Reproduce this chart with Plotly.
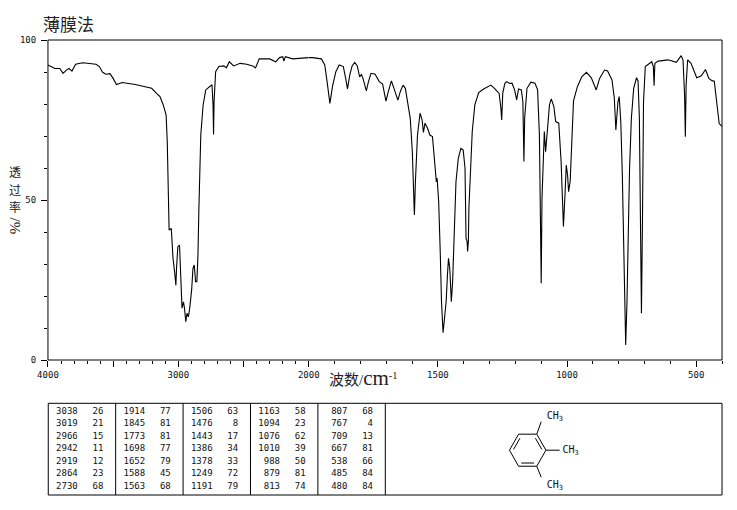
import numpy as np
import plotly.graph_objects as go

# IR spectrum (cm-1, %T)
wavenumber = [
    4000, 3947, 3909, 3884, 3859, 3838, 3816, 3788, 3733, 3631, 3606, 3581, 3556, 3525,
    3500, 3475, 3430, 3330, 3255, 3205, 3167, 3141, 3116, 3094, 3085, 3076, 3071, 3054,
    3041, 3029, 3019, 3014, 3004, 2991, 2984, 2972, 2961, 2953, 2943, 2934, 2923, 2913,
    2898, 2888, 2878, 2868, 2858, 2850, 2843, 2835, 2828, 2810, 2790, 2752, 2742, 2734,
    2730, 2726, 2714, 2689, 2651, 2632, 2609, 2576, 2526, 2475, 2425, 2408, 2380, 2300,
    2254, 2224, 2199, 2191, 2179, 2123, 2074, 2023, 2000, 1986, 1951, 1938, 1929, 1918,
    1908, 1895, 1882, 1866, 1857, 1850, 1841, 1832, 1822, 1812, 1803, 1796, 1790, 1784,
    1777, 1769, 1759, 1743, 1727, 1714, 1708, 1701, 1692, 1680, 1670, 1655, 1645, 1635,
    1626, 1617, 1607, 1599, 1594, 1591, 1587, 1579, 1569, 1561, 1556, 1550, 1540, 1531,
    1521, 1512, 1506, 1503, 1497, 1491, 1486, 1480, 1473, 1468, 1463, 1459, 1454, 1448,
    1443, 1438, 1430, 1421, 1411, 1402, 1395, 1391, 1387, 1385, 1382, 1380, 1373, 1367,
    1357, 1342, 1323, 1295, 1281, 1263, 1256, 1253, 1249, 1241, 1234, 1222, 1213, 1203,
    1195, 1188, 1177, 1171, 1167, 1164, 1155, 1140, 1124, 1114, 1107, 1103, 1100, 1097,
    1091, 1088, 1083, 1076, 1068, 1061, 1051, 1044, 1032, 1023, 1018, 1014, 1008, 1003,
    998, 994, 988, 981, 975, 960, 943, 925, 906, 887, 874, 855, 843, 826,
    817, 811, 803, 798, 792, 786, 782, 777, 773, 768, 763, 758, 751, 742,
    731, 725, 720, 716, 712, 708, 704, 697, 678, 672, 666, 663, 660, 647,
    609, 577, 558, 551, 545, 542, 539, 533, 520, 498, 480, 464, 451, 439,
    430, 420, 411, 400,
]
transmittance = [
    92.2, 91.1, 91.1, 89.6, 90.6, 91.1, 90.3, 92.4, 92.9, 92.4, 91.7, 89.9, 89.3, 89.5,
    88.0, 86.1, 86.7, 86.1, 85.4, 84.9, 83.3, 82.3, 79.7, 76.6, 68.2, 53.7, 40.6, 41.1,
    31.8, 27.6, 23.4, 28.6, 35.4, 35.9, 28.7, 16.2, 18.2, 16.2, 12.0, 14.6, 13.5, 16.2,
    21.9, 28.6, 29.7, 24.5, 24.5, 32.3, 46.4, 59.9, 70.3, 79.7, 84.4, 85.7, 86.0, 79.7,
    70.5, 80.7, 90.1, 91.7, 91.9, 91.3, 93.2, 91.9, 92.7, 92.4, 91.8, 91.3, 94.1, 94.1,
    93.2, 94.5, 94.8, 93.4, 94.8, 94.1, 94.3, 94.5, 94.5, 94.5, 94.1, 92.2, 87.0, 80.2,
    85.5, 90.1, 92.2, 91.7, 88.0, 84.7, 89.1, 91.9, 93.0, 91.9, 88.5, 89.2, 88.0, 85.9,
    84.1, 86.9, 89.6, 89.3, 87.0, 86.2, 83.3, 80.9, 83.9, 87.2, 84.9, 81.2, 84.0, 85.9,
    84.9, 80.7, 75.5, 65.1, 52.6, 45.3, 55.8, 70.3, 77.1, 75.0, 71.1, 74.0, 72.4, 70.3,
    69.8, 59.9, 55.7, 56.8, 49.5, 33.9, 18.2, 8.5, 14.1, 18.2, 26.6, 31.8, 28.6, 18.2,
    24.5, 39.1, 55.7, 63.0, 66.1, 65.6, 59.9, 38.0, 37.1, 33.9, 37.1, 47.4, 62.0, 71.4,
    79.7, 83.6, 84.7, 85.9, 84.9, 83.3, 78.6, 75.0, 83.3, 86.4, 87.0, 86.4, 86.5, 84.4,
    81.3, 84.7, 84.4, 80.7, 62.0, 75.7, 84.9, 86.8, 86.5, 84.4, 70.3, 51.6, 24.0, 50.5,
    68.2, 71.4, 65.1, 72.4, 79.7, 81.6, 79.2, 74.5, 74.0, 62.0, 47.4, 41.7, 51.5, 60.9,
    57.8, 52.6, 55.7, 70.3, 81.0, 85.4, 88.5, 89.9, 88.2, 84.4, 88.0, 90.6, 90.3, 87.5,
    81.8, 71.9, 80.7, 82.3, 74.5, 57.8, 39.1, 19.3, 4.7, 18.2, 39.1, 59.9, 75.5, 84.9,
    88.2, 87.2, 75.5, 34.9, 14.6, 44.0, 80.7, 91.7, 92.7, 93.2, 91.7, 85.7, 92.7, 93.4,
    93.8, 93.0, 95.1, 93.7, 82.8, 69.8, 86.0, 93.8, 92.7, 88.2, 88.8, 90.8, 88.0, 87.3,
    87.1, 80.7, 73.9, 73.0,
]

# peak table (column by column)
peak_wn = [3038, 3019, 2966, 2942, 2919, 2864, 2730,
           1914, 1845, 1773, 1698, 1652, 1588, 1563,
           1506, 1476, 1443, 1386, 1378, 1249, 1191,
           1163, 1094, 1076, 1010, 988, 879, 813,
           807, 767, 709, 667, 538, 485, 480]
peak_t = [26, 21, 15, 11, 12, 23, 68,
          77, 81, 81, 77, 79, 45, 68,
          63, 8, 17, 34, 33, 72, 79,
          58, 23, 62, 39, 50, 81, 74,
          68, 4, 13, 81, 66, 84, 84]

x_ticks_left = [4000, 3500, 3000, 2500, 2000]
x_labels_left = ["4000", "", "3000", "", "2000"]
x_ticks_right = [1500, 1000, 500]
x_labels_right = ["1500", "1000", "500"]

# the page puts the figure 8px in from the top-left corner
OFF = 8
W, H = 737 - OFF, 510 - OFF
ML, MR, MT, MB = 46 - OFF, 2, 40 - OFF, 10


def px_x(x):
    # x in window pixels -> paper
    return (x - OFF - ML) / (W - ML - MR)


def px_y(y):
    return (H - MB - (y - OFF)) / (H - MT - MB)


mono = dict(family="DejaVu Sans Mono", size=9, color="#111")
cjk = "Noto Sans CJK SC"

wn = np.array(wavenumber)
tr = np.array(transmittance)
left = wn >= 2000
right = wn <= 2000

fig = go.Figure()
fig.add_trace(go.Scatter(x=wn[left], y=tr[left], mode="lines", xaxis="x", yaxis="y",
                         line=dict(color="black", width=1.1), hoverinfo="skip"))
fig.add_trace(go.Scatter(x=wn[right], y=tr[right], mode="lines", xaxis="x2", yaxis="y",
                         line=dict(color="black", width=1.1), hoverinfo="skip"))

# ---- peak table, local pixel units (origin = top-left of the table box)
TX0, TY0 = 48.3, 403.3
col_w = 68.5
row_h = 12.5
box_w, box_h = 684.7, 91.7
tx, ty, tt = [], [], []
for i in range(len(peak_wn)):
    c, r = divmod(i, 7)
    tx.append(c * col_w + 30)
    ty.append(8.4 + r * row_h)
    tt.append(str(peak_wn[i]))
for i in range(len(peak_t)):
    c, r = divmod(i, 7)
    tx.append(c * col_w + 56)
    ty.append(8.4 + r * row_h)
    tt.append(str(peak_t[i]))
fig.add_trace(go.Scatter(x=tx, y=ty, text=tt, mode="text", textposition="middle left",
                         textfont=mono, xaxis="x3", yaxis="y3", hoverinfo="skip"))

# ---- structure: 1,2,3-trimethylbenzene
cx, cy, rr = 487.2, 46.9, 18.5
ang = np.radians([0, 60, 120, 180, 240, 300])
vx = cx + rr * np.cos(ang)
vy = cy - rr * np.sin(ang)
sx, sy = [], []
for k in range(6):
    a, b = k, (k + 1) % 6
    sx += [vx[a], vx[b], None]
    sy += [vy[a], vy[b], None]
for a, b in [(0, 1), (2, 3), (4, 5)]:
    p = np.array([vx[a], vy[a]])
    q = np.array([vx[b], vy[b]])
    m = (p + q) / 2
    n = np.array([cx, cy]) - m
    n = n / np.hypot(*n) * 3.2
    p2 = p + (q - p) * 0.15 + n
    q2 = q + (p - q) * 0.15 + n
    sx += [p2[0], q2[0], None]
    sy += [p2[1], q2[1], None]
for k, (dx, dy) in zip([1, 0, 5], [(4.5, -12.5), (14, 0), (4.5, 11)]):
    sx += [vx[k], vx[k] + dx, None]
    sy += [vy[k], vy[k] + dy, None]
fig.add_trace(go.Scatter(x=sx, y=sy, mode="lines", line=dict(color="black", width=1),
                         xaxis="x3", yaxis="y3", hoverinfo="skip"))
fig.add_trace(go.Scatter(x=[506.5, 522.5, 506.5], y=[13.4, 46.7, 81.7],
                         text=["CH<sub>3</sub>"] * 3, mode="text", textposition="middle right",
                         textfont=dict(family="DejaVu Sans Mono", size=10, color="#111"),
                         xaxis="x3", yaxis="y3", hoverinfo="skip"))

split = px_x(313)
y_dom = [px_y(360), px_y(40)]
tick_common = dict(ticks="outside", ticklen=6, tickwidth=1, tickcolor="black",
                   showgrid=False, zeroline=False, showline=False, tickfont=mono,
                   tickmode="array")
fig.update_layout(
    width=W, height=H,
    margin=dict(l=ML, r=MR, t=MT, b=MB),
    paper_bgcolor="white", plot_bgcolor="white",
    showlegend=False,
    xaxis=dict(domain=[px_x(48), split], range=[4000, 2000], anchor="y",
               tickvals=x_ticks_left, ticktext=x_labels_left,
               minor=dict(tick0=0, dtick=100, ticks="outside", ticklen=3, tickcolor="black"),
               **tick_common),
    xaxis2=dict(domain=[split, px_x(733)], range=[2000, 400], anchor="y",
                tickvals=x_ticks_right, ticktext=x_labels_right,
                minor=dict(tick0=0, dtick=100, ticks="outside", ticklen=3, tickcolor="black"),
                **tick_common),
    yaxis=dict(domain=y_dom, range=[0, 100], anchor="x",
               tickvals=[0, 50, 100], ticktext=["0", "50", "100"], ticklabelstandoff=3,
               minor=dict(tick0=0, dtick=10, ticks="outside", ticklen=3, tickcolor="black"),
               **tick_common),
    xaxis3=dict(domain=[0, 1], range=[ML + OFF - TX0, W - MR + OFF - TX0], anchor="y3",
                visible=False),
    yaxis3=dict(domain=[0, px_y(400)], range=[H - MB + OFF - TY0, 400 - TY0], anchor="x3",
                visible=False),
)

shapes = [dict(type="rect", xref="paper", yref="paper", x0=px_x(48), x1=px_x(733),
               y0=px_y(360), y1=px_y(40), line=dict(color="black", width=1))]
shapes.append(dict(type="rect", xref="x3", yref="y3", x0=0, x1=box_w, y0=0, y1=box_h,
                   line=dict(color="black", width=1)))
for k in range(1, 6):
    shapes.append(dict(type="line", xref="x3", yref="y3", x0=k * col_w, x1=k * col_w,
                       y0=0, y1=box_h, line=dict(color="black", width=1)))
fig.update_layout(shapes=shapes)

ann = [
    dict(text="薄膜法", x=px_x(41), y=px_y(24), xanchor="left", yanchor="middle",
         font=dict(family=cjk, size=17, color="#222")),
    dict(text="波数/<span style='font-size:21px'>cm</span><sup>-1</sup>",
         x=px_x(369), y=px_y(378), xanchor="center", yanchor="middle",
         font=dict(family="Liberation Serif, " + cjk, size=15, color="#222")),
    dict(text="/%", x=px_x(15), y=px_y(226), textangle=90, xanchor="center",
         yanchor="middle", font=dict(family="Liberation Serif, " + cjk, size=15, color="#222")),
]
# vertical y title, one upright character per annotation
for ch, yy in zip("透过率", [171.5, 189, 206.5]):
    ann.append(dict(text=ch, x=px_x(15), y=px_y(yy), xanchor="center", yanchor="middle",
                    font=dict(family=cjk, size=12, color="#222")))
for a in ann:
    a.update(xref="paper", yref="paper", showarrow=False)
fig.update_layout(annotations=ann)

fig.write_html("out.html")
